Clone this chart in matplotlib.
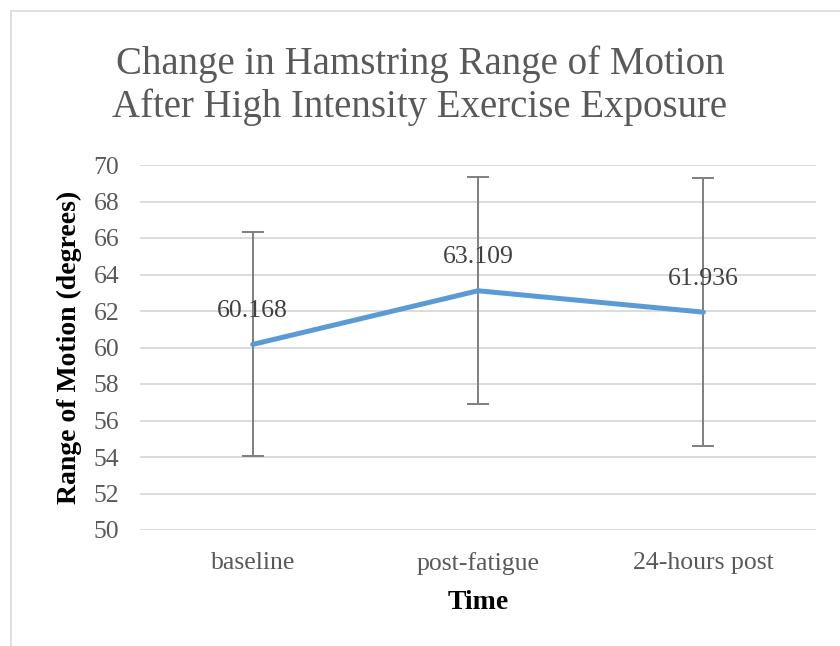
import matplotlib
matplotlib.use('Agg')
import matplotlib.pyplot as plt
from matplotlib.patches import Rectangle

# datos
momentos = ['baseline', 'post-fatigue', '24-hours post']
medias = [60.168, 63.109, 61.936]
errores = [6.14, 6.22, 7.33]
etiquetas = ['60.168', '63.109', '61.936']

plt.rcParams['font.family'] = ['Liberation Serif', 'DejaVu Serif']

fig = plt.figure(figsize=(8.4, 6.46), dpi=100)
fig.patches.append(Rectangle((11 / 840, -0.1), 1.2, 1 - 11 / 646 + 0.1,
                             transform=fig.transFigure, fill=False,
                             edgecolor='#D9D9D9', linewidth=1.2))

ax = fig.add_axes([140 / 840, 1 - 530 / 646, 676 / 840, 365 / 646])
x = list(range(len(momentos)))

ax.errorbar(x, medias, yerr=errores, fmt='none', ecolor='#7F7F7F',
            elinewidth=1.4, capsize=8, capthick=1.4, zorder=2)
ax.plot(x, medias, color='#5B9BD5', linewidth=3.6, solid_capstyle='round', zorder=3)

for xi, yi, txt in zip(x, medias, etiquetas):
    ax.annotate(txt, (xi, yi), xytext=(0, 24), textcoords='offset points',
                ha='center', va='center', fontsize=18.5, color='#404040')

ax.set_xlim(-0.5, 2.5)
ax.set_ylim(50, 70)
ax.set_yticks(range(50, 71, 2))
ax.set_xticks(x)
ax.set_xticklabels(momentos)
ax.tick_params(length=0, labelsize=18.5, colors='#595959')
ax.tick_params(axis='y', pad=15)
ax.tick_params(axis='x', pad=16)
ax.grid(axis='y', color='#D9D9D9', linewidth=1.3)
ax.set_axisbelow(True)
for s in ax.spines.values():
    s.set_visible(False)

ax.set_ylabel('Range of Motion (degrees)', fontsize=20, fontweight='bold',
              color='black', labelpad=8)
ax.set_xlabel('Time', fontsize=20, fontweight='bold', color='black', labelpad=11)

fig.text(0.5, 1 - 86 / 646, 'Change in Hamstring Range of Motion\nAfter High Intensity Exercise Exposure',
         ha='center', va='center', fontsize=28, color='#595959', linespacing=1.19)

fig.savefig('out.png', dpi=100)
